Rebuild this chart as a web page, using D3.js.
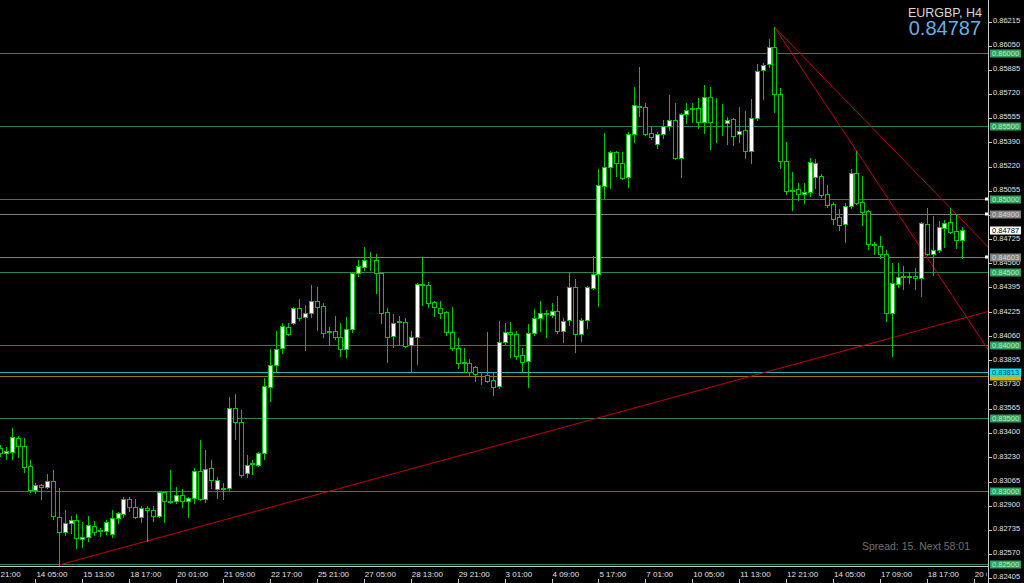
<!DOCTYPE html>
<html><head><meta charset="utf-8">
<script src="https://cdn.jsdelivr.net/npm/d3@7"></script>
<style>html,body{margin:0;padding:0;background:#000;overflow:hidden}svg{display:block}</style>
</head><body>
<svg id="chart" width="1024" height="583"></svg>
<script>
const opens = [0.83295,0.83260,0.83267,0.83363,0.83308,0.83171,0.83007,0.83041,0.83027,0.83068,
0.82822,0.82719,0.82781,0.82801,0.82671,0.82685,0.82760,0.82733,0.82726,0.82706,
0.82815,0.82842,0.82945,0.82890,0.82822,0.82884,0.82870,0.82829,0.82993,0.82932,
0.82932,0.82973,0.82932,0.82952,0.83137,0.82945,0.83158,0.83014,0.83021,0.83021,
0.83568,0.83473,0.83123,0.83192,0.83178,0.83260,0.83712,0.83863,0.83979,0.84123,
0.84151,0.84253,0.84192,0.84219,0.84301,0.84267,0.84096,0.84096,0.84055,0.83973,
0.84110,0.84493,0.84534,0.84575,0.84582,0.84493,0.84226,0.84062,0.84164,0.84158,
0.84000,0.84055,0.84418,0.84411,0.84294,0.84253,0.84226,0.84089,0.83979,0.83884,
0.83877,0.83849,0.83801,0.83795,0.83760,0.83719,0.84021,0.84089,0.84075,0.83931,
0.83890,0.84082,0.84185,0.84219,0.84205,0.84233,0.84096,0.84171,0.84397,0.84075,
0.84171,0.84390,0.84486,0.85089,0.85219,0.85322,0.85246,0.85151,0.85445,0.85637,
0.85630,0.85452,0.85377,0.85445,0.85500,0.85541,0.85281,0.85582,0.85623,0.85623,
0.85527,0.85699,0.85527,0.85527,0.85520,0.85548,0.85445,0.85473,0.85329,0.85555,
0.85883,0.85925,0.86041,0.85719,0.85260,0.85062,0.85068,0.85034,0.85048,0.85151,
0.85157,0.85034,0.84966,0.84877,0.84829,0.84952,0.85178,0.84979,0.84918,0.84692,
0.84678,0.84623,0.84219,0.84418,0.84473,0.84473,0.84473,0.84459,0.84829,0.84623,
0.84651,0.84801,0.84842,0.84781,0.84719];
const highs = [0.83315,0.83301,0.83431,0.83377,0.83363,0.83212,0.83055,0.83045,0.83116,0.83144,
0.83021,0.82870,0.82829,0.82842,0.82788,0.82829,0.82795,0.82747,0.82801,0.82870,
0.82856,0.82959,0.82959,0.82945,0.82897,0.82897,0.82897,0.82998,0.82998,0.83144,
0.83027,0.83014,0.82959,0.83158,0.83349,0.83281,0.83212,0.83096,0.83055,0.83644,
0.83664,0.83555,0.83247,0.83212,0.83267,0.83774,0.83973,0.84096,0.84151,0.84151,
0.84260,0.84315,0.84274,0.84411,0.84397,0.84288,0.84123,0.84199,0.84151,0.84192,
0.84500,0.84582,0.84671,0.84637,0.84623,0.84500,0.84253,0.84212,0.84199,0.84185,
0.84096,0.84425,0.84603,0.84431,0.84301,0.84301,0.84233,0.84260,0.84048,0.83979,
0.83904,0.83856,0.83815,0.84089,0.83808,0.84164,0.84151,0.84158,0.84095,0.83979,
0.84144,0.84246,0.84301,0.84240,0.84288,0.84336,0.84185,0.84500,0.84452,0.84185,
0.84404,0.84610,0.85205,0.85452,0.85329,0.85329,0.85322,0.85459,0.85767,0.85904,
0.85657,0.85493,0.85459,0.85541,0.85712,0.85657,0.85589,0.85657,0.85657,0.85692,
0.85781,0.85767,0.85692,0.85651,0.85562,0.85555,0.85630,0.85603,0.85685,0.85925,
0.85931,0.86096,0.86178,0.85760,0.85390,0.85185,0.85110,0.85110,0.85281,0.85274,
0.85171,0.85096,0.84979,0.84931,0.84973,0.85205,0.85329,0.85157,0.84925,0.84705,
0.84747,0.84651,0.84562,0.84562,0.84541,0.84500,0.84527,0.84840,0.84938,0.84884,
0.84849,0.84856,0.84938,0.84897,0.84808];
const lows = [0.83240,0.83219,0.83219,0.83233,0.83130,0.82993,0.82986,0.82945,0.83021,0.82808,
0.82493,0.82699,0.82712,0.82610,0.82616,0.82658,0.82699,0.82692,0.82706,0.82685,
0.82781,0.82822,0.82863,0.82818,0.82788,0.82658,0.82795,0.82822,0.82788,0.82920,
0.82918,0.82890,0.82822,0.82918,0.82938,0.82925,0.83021,0.82952,0.82945,0.83007,
0.83356,0.83096,0.83096,0.83116,0.83171,0.83219,0.83616,0.83822,0.83945,0.84068,
0.84145,0.84171,0.83966,0.84192,0.84103,0.84055,0.84000,0.84041,0.83925,0.83918,
0.84089,0.84473,0.84514,0.84514,0.84356,0.84151,0.83884,0.83986,0.84000,0.83986,
0.83815,0.83870,0.84274,0.84260,0.84199,0.84185,0.84068,0.83966,0.83842,0.83815,
0.83795,0.83753,0.83733,0.83747,0.83658,0.83705,0.84000,0.83918,0.83904,0.83815,
0.83712,0.84068,0.84096,0.84055,0.84192,0.84082,0.84021,0.84137,0.83952,0.84027,
0.84116,0.84383,0.84267,0.85007,0.85075,0.85157,0.85137,0.85082,0.85390,0.85568,
0.85438,0.85411,0.85349,0.85418,0.85473,0.85274,0.85151,0.85520,0.85527,0.85486,
0.85452,0.85342,0.85390,0.85438,0.85377,0.85370,0.85390,0.85281,0.85246,0.85541,
0.85685,0.85904,0.85596,0.85212,0.85034,0.84925,0.84993,0.84973,0.85020,0.85075,
0.85014,0.84945,0.84829,0.84788,0.84705,0.84938,0.84966,0.84822,0.84657,0.84623,
0.84596,0.84164,0.83925,0.84397,0.84383,0.84425,0.84383,0.84336,0.84616,0.84479,
0.84637,0.84671,0.84767,0.84664,0.84596];
const closes = [0.83260,0.83274,0.83370,0.83308,0.83164,0.83007,0.83041,0.83027,0.83068,0.82829,
0.82719,0.82781,0.82801,0.82678,0.82685,0.82767,0.82719,0.82726,0.82788,0.82815,
0.82849,0.82945,0.82890,0.82822,0.82884,0.82870,0.82829,0.82993,0.82932,0.82925,
0.82973,0.82932,0.82952,0.83137,0.82945,0.83151,0.83075,0.83075,0.83017,0.83568,
0.83473,0.83110,0.83178,0.83185,0.83260,0.83719,0.83863,0.83973,0.84130,0.84075,
0.84253,0.84185,0.84219,0.84301,0.84260,0.84082,0.84089,0.84055,0.83973,0.84110,
0.84493,0.84541,0.84582,0.84572,0.84493,0.84219,0.84055,0.84151,0.84158,0.83993,
0.84055,0.84418,0.84414,0.84288,0.84260,0.84219,0.84089,0.83979,0.83877,0.83880,
0.83815,0.83801,0.83798,0.83753,0.83712,0.84021,0.84089,0.84075,0.83925,0.83884,
0.84082,0.84185,0.84219,0.84212,0.84233,0.84096,0.84164,0.84397,0.84075,0.84171,
0.84397,0.84486,0.85096,0.85219,0.85322,0.85246,0.85144,0.85445,0.85644,0.85630,
0.85445,0.85425,0.85445,0.85500,0.85541,0.85281,0.85582,0.85610,0.85616,0.85527,
0.85699,0.85527,0.85524,0.85524,0.85541,0.85431,0.85466,0.85329,0.85555,0.85877,
0.85918,0.86041,0.85719,0.85260,0.85055,0.85058,0.85034,0.85048,0.85253,0.85246,
0.85027,0.84959,0.84863,0.84822,0.84952,0.85178,0.84973,0.84911,0.84692,0.84685,
0.84623,0.84219,0.84425,0.84466,0.84469,0.84469,0.84459,0.84836,0.84623,0.84651,
0.84808,0.84836,0.84774,0.84719,0.84787];

const timeLabels = ["12 21:00","14 05:00","15 13:00","18 17:00","20 01:00","21 09:00","22 17:00","25 21:00","27 05:00","28 13:00","29 21:00","3 01:00","4 09:00","5 17:00","7 01:00","10 05:00","11 13:00","12 21:00","14 05:00","17 09:00","18 17:00","20 01:00"];
const timeLabelBars = [-2,6,14,22,30,38,46,54,62,70,78,86,94,102,110,118,126,134,142,150,158,166];
const priceTicks = [0.86215,0.86050,0.85885,0.85720,0.85555,0.85390,0.85220,0.85055,0.84890,0.84725,0.84560,0.84395,0.84225,0.84060,0.83895,0.83730,0.83565,0.83400,0.83230,0.83065,0.82900,0.82735,0.82570,0.82405];
const greenLevels = [0.86000,0.85500,0.85000,0.84500,0.84000,0.83500,0.83000,0.82500];
const greyLevels = [0.84900,0.84603];
const cyanLevel = 0.83813;
const goldLevel = 0.83790;
const markerLevels = [0.85000,0.84900,0.84603];
const lastPrice = 0.84787;
// trend lines: [barA, priceA, barB, priceB]
const trendLines = [
  [10, 0.82493, 160, 0.84137],
  [132, 0.86178, 146, 0.85329],
  [132, 0.86178, 162, 0.84938]
];

const W = 1024, H = 583, plotR = 988, plotB = 566;
const svg = d3.select("#chart");
svg.append("rect").attr("width", W).attr("height", H).attr("fill", "#000");

const x = d3.scaleLinear().domain([0, 164]).range([0.2, 0.2 + 164 * 5.865]);
const y = d3.scaleLinear().domain([0.825, 0.86]).range([564, 53]);

const defs = svg.append("defs");
defs.append("clipPath").attr("id", "plot").append("rect").attr("x", 0).attr("y", 0).attr("width", plotR).attr("height", plotB);
defs.append("clipPath").attr("id", "timeclip").append("rect").attr("x", 0).attr("y", plotB).attr("width", plotR - 1).attr("height", H - plotB);

const plot = svg.append("g").attr("clip-path", "url(#plot)");
const pY = v => Math.round(y(v)) + 0.5;

// horizontal level lines
plot.selectAll(".gl").data(greenLevels).join("line")
  .attr("x1", 0).attr("x2", plotR).attr("y1", d => pY(d)).attr("y2", d => pY(d))
  .attr("stroke", "#2a8450").attr("stroke-width", 1);
plot.selectAll(".gr").data(greyLevels).join("line")
  .attr("x1", 0).attr("x2", plotR).attr("y1", d => pY(d)).attr("y2", d => pY(d))
  .attr("stroke", "#7c7c7c").attr("stroke-width", 1);
plot.append("line").attr("x1", 0).attr("x2", plotR).attr("y1", pY(goldLevel)).attr("y2", pY(goldLevel))
  .attr("stroke", "#9a7a10").attr("stroke-width", 1);
plot.append("line").attr("x1", 0).attr("x2", plotR).attr("y1", pY(cyanLevel)).attr("y2", pY(cyanLevel))
  .attr("stroke", "#20b8c8").attr("stroke-width", 1);

// trend lines
plot.selectAll(".tl").data(trendLines).join("line")
  .attr("x1", d => x(d[0])).attr("y1", d => y(d[1]))
  .attr("x2", plotR + 5)
  .attr("y2", d => {
    const slope = (y(d[3]) - y(d[1])) / (x(d[2]) - x(d[0]));
    return y(d[1]) + slope * (plotR + 5 - x(d[0]));
  })
  .attr("stroke", "#c00000").attr("stroke-width", 1);

// candles
const idx = d3.range(opens.length);
const cg = plot.append("g").attr("shape-rendering", "crispEdges");
const green = "#00c800";
cg.selectAll(".wick").data(idx).join("line")
  .attr("x1", i => Math.round(x(i)) + 0.5).attr("x2", i => Math.round(x(i)) + 0.5)
  .attr("y1", i => Math.round(y(highs[i]))).attr("y2", i => Math.round(y(lows[i])) + 1)
  .attr("stroke", green).attr("stroke-width", 1);
cg.selectAll(".body").data(idx).join("rect")
  .attr("x", i => Math.round(x(i)) - 1.5)
  .attr("width", 4)
  .attr("y", i => Math.round(y(Math.max(opens[i], closes[i]))) + 0.5)
  .attr("height", i => Math.max(0, Math.round(y(Math.min(opens[i], closes[i]))) - Math.round(y(Math.max(opens[i], closes[i])))))
  .attr("fill", i => closes[i] > opens[i] ? "#ffffff" : "#000000")
  .attr("stroke", green).attr("stroke-width", 1);

// markers
svg.selectAll(".mk").data(markerLevels).join("rect")
  .attr("x", 985).attr("y", d => Math.round(y(d)) - 1.5).attr("width", 3).attr("height", 3)
  .attr("fill", "#ffffff");

// axes lines
svg.append("line").attr("x1", plotR + 0.5).attr("x2", plotR + 0.5).attr("y1", 0).attr("y2", H)
  .attr("stroke", "#c8c8c8").attr("stroke-width", 1);
svg.append("line").attr("x1", 0).attr("x2", plotR).attr("y1", plotB + 0.5).attr("y2", plotB + 0.5)
  .attr("stroke", "#c8c8c8").attr("stroke-width", 1);

// right price axis
const fontF = "Liberation Sans, Arial, sans-serif";
const ya = svg.append("g").attr("font-family", fontF).attr("font-size", "7.5px").attr("fill", "#e0e0e0");
ya.selectAll("line").data(priceTicks).join("line")
  .attr("x1", plotR + 1).attr("x2", plotR + 4).attr("y1", d => pY(d)).attr("y2", d => pY(d))
  .attr("stroke", "#c8c8c8");
ya.selectAll("text").data(priceTicks).join("text")
  .attr("x", 993).attr("y", d => y(d) - 1).attr("dominant-baseline", "central")
  .text(d => d.toFixed(5));

function levelLabel(v, bg, fg, withText) {
  const g = svg.append("g");
  const cy = Math.round(y(v));
  g.append("rect").attr("x", 990).attr("y", cy - 3.5).attr("width", 31).attr("height", 8).attr("fill", bg);
  if (withText) {
    g.append("text").attr("x", 992).attr("y", cy + 0.5).attr("dominant-baseline", "central")
      .attr("font-family", fontF).attr("font-size", "7.5px").attr("fill", fg).text(v.toFixed(5));
  }
}
greenLevels.forEach(v => levelLabel(v, "#34a060", "#b0f0c0", true));
greyLevels.forEach(v => levelLabel(v, "#808080", "#d8d8d8", true));
levelLabel(goldLevel, "#e0b000", "#000000", false);
levelLabel(cyanLevel, "#00e8f0", "#004060", true);
levelLabel(lastPrice, "#ffffff", "#000000", true);

// time axis
const ta = svg.append("g").attr("clip-path", "url(#timeclip)").attr("font-family", fontF).attr("font-size", "8px").attr("fill", "#e0e0e0");
ta.selectAll("text").data(timeLabels).join("text")
  .attr("x", (d, i) => x(timeLabelBars[i]) + 1).attr("y", 577)
  .text(d => d);
ta.selectAll("line").data(timeLabelBars).join("line")
  .attr("x1", d => Math.round(x(d)) + 0.5).attr("x2", d => Math.round(x(d)) + 0.5)
  .attr("y1", 579).attr("y2", 583).attr("stroke", "#c8c8c8");

// titles
svg.append("text").attr("x", 982).attr("y", 17).attr("text-anchor", "end")
  .attr("font-family", fontF).attr("font-size", "12.5px").attr("fill", "#d8d8d8").text("EURGBP, H4");
svg.append("text").attr("x", 981).attr("y", 35).attr("text-anchor", "end")
  .attr("font-family", fontF).attr("font-size", "20px").attr("fill", "#68aee8").text(lastPrice.toFixed(5));
svg.append("text").attr("x", 970).attr("y", 550).attr("text-anchor", "end")
  .attr("font-family", fontF).attr("font-size", "10.5px").attr("fill", "#707070").text("Spread: 15. Next 58:01");
</script>
</body></html>
